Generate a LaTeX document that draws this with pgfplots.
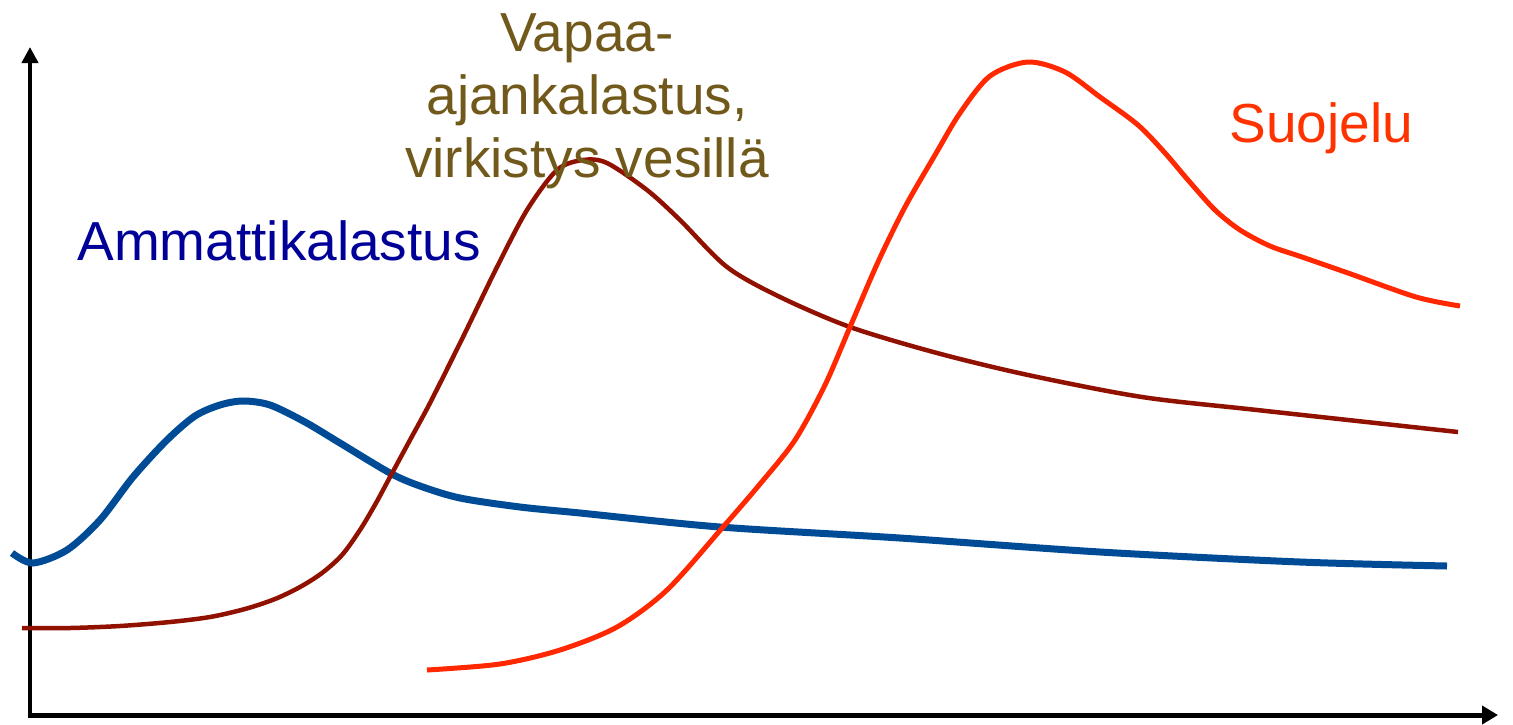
\documentclass[border=0pt]{standalone}
\usepackage{fontspec}
\setmainfont{Liberation Sans}
\usepackage{pgfplots}
\pgfplotsset{compat=1.18}
\usetikzlibrary{arrows.meta}

\definecolor{kalablue}{RGB}{0,75,150}
\definecolor{vapaared}{RGB}{145,17,0}
\definecolor{suojred}{RGB}{255,40,0}
\definecolor{txtblue}{RGB}{0,0,153}
\definecolor{txtolive}{RGB}{112,89,26}
\definecolor{txtred}{RGB}{255,51,0}

\begin{document}
\begin{tikzpicture}
\begin{axis}[
  x=0.5pt, y=0.5pt, y dir=reverse,
  xmin=0, xmax=1513, ymin=0, ymax=724,
  hide axis, scale only axis, clip=false
]
\path (axis cs:0,0) rectangle (axis cs:1513,724);

% axes
\addplot[black, line width=2pt, -{Triangle[length=8pt,width=8pt]}]
  coordinates {(30,717)(30,47)};
\addplot[black, line width=2.5pt, -{Triangle[length=8pt,width=9pt]}]
  coordinates {(28,715)(1498,715)};

% Ammattikalastus
\addplot[kalablue, line width=3.5pt, smooth] coordinates {
  (12,553)(33,563)(67,550)(100,520)(133,477)(167,440)(195,416)(220,405)
  (243,401)(270,405)(305,422)(340,443)(390,473)(420,486)(460,498)(520,507)
  (580,513)(720,527)(900,538)(1100,552)(1300,562)(1447,566)
};

% Vapaa-ajankalastus
\addplot[vapaared, line width=2.25pt, smooth] coordinates {
  (22,628)(70,628)(120,626)(170,622)(210,617)(245,609)(275,599)(300,587)
  (322,573)(342,555)(360,530)(376,503)(390,477)(410,440)(430,403)
  (463,337)(497,267)(527,210)(557,170)(583,160)(607,163)(647,190)
  (680,220)(727,267)(780,297)(850,327)(937,353)(1028,375)(1142,397)
  (1257,410)(1458,432)
};

% Suojelu
\addplot[suojred, line width=2.5pt, smooth] coordinates {
  (427,670)(500,664)(560,650)(617,627)(667,590)(723,527)(760,484)
  (795,440)(825,385)(850,327)(878,262)(905,207)(935,155)(960,113)
  (990,76)(1028,62)(1065,72)(1100,97)(1138,125)(1165,153)(1188,180)
  (1215,210)(1240,230)(1270,246)(1302,257)(1348,273)(1416,297)(1460,306)
};

\node[anchor=base west, text=txtblue, font=\fontsize{27.5}{31.5}\selectfont, inner sep=0pt]
  at (axis cs:77,260) {Ammattikalastus};
\node[anchor=base, text=txtolive, align=center, inner sep=0pt,
      font=\fontsize{27.5}{31.5}\selectfont]
  at (axis cs:587,177) {Vapaa-\\ajankalastus,\\virkistys vesillä};
\node[anchor=base west, text=txtred, font=\fontsize{27.5}{31.5}\selectfont, inner sep=0pt]
  at (axis cs:1229,142) {Suojelu};
\end{axis}
\end{tikzpicture}
\end{document}
